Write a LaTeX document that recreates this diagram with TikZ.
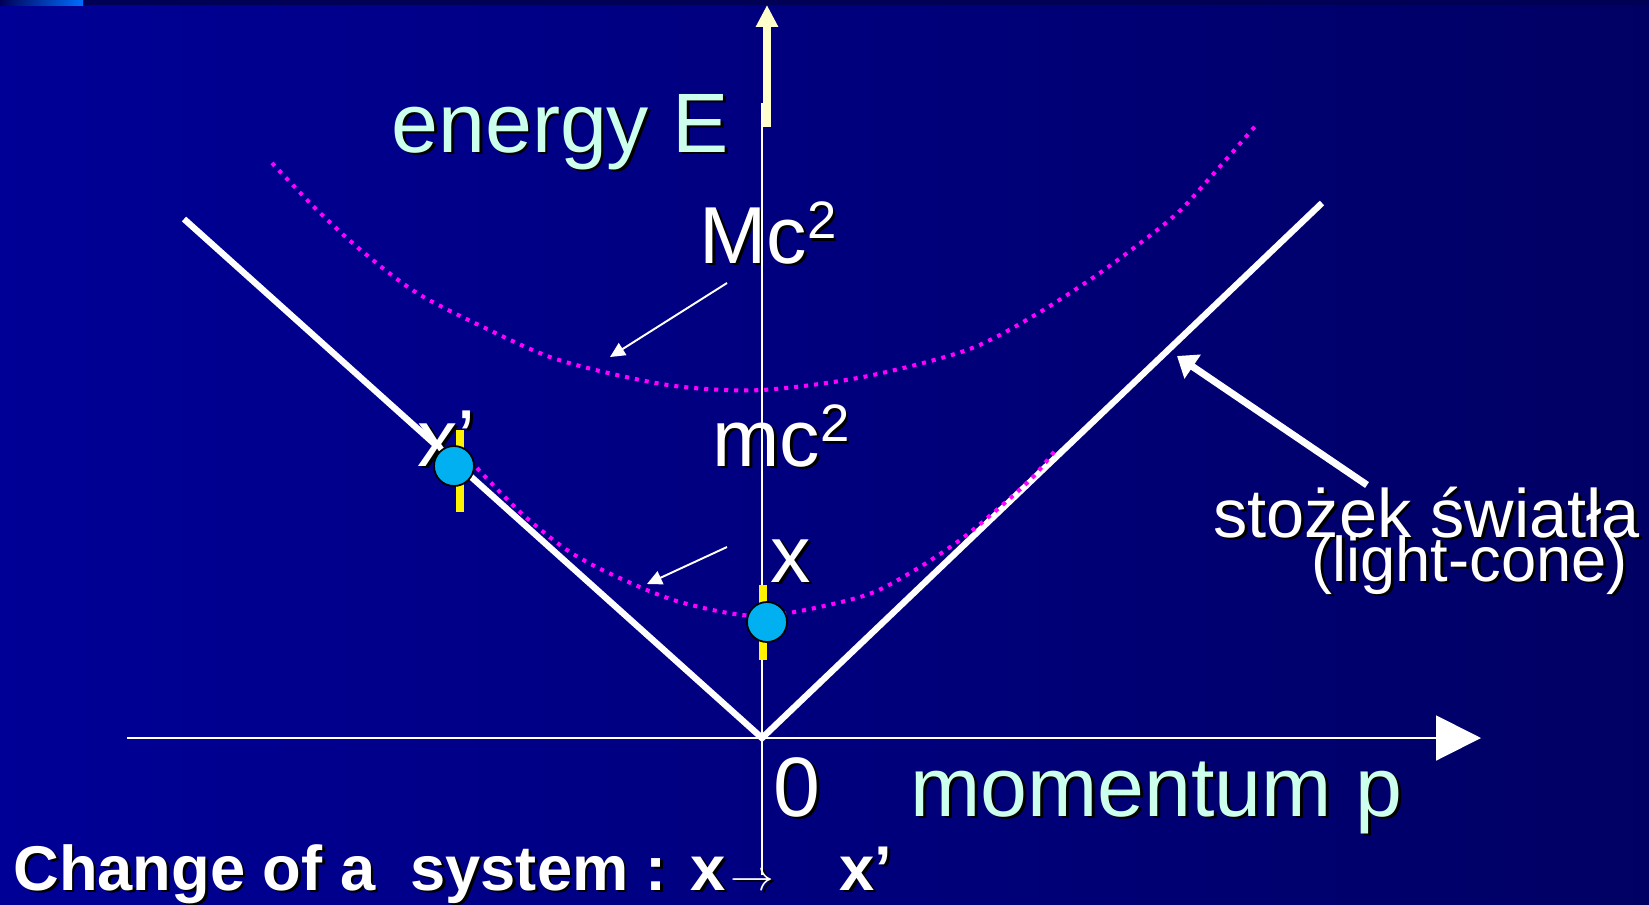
\documentclass[tikz,border=0pt]{standalone}
\usepackage{fontspec}
\setmainfont{Liberation Sans}
\usetikzlibrary{arrows.meta}

\definecolor{bgleft}{RGB}{0,0,150}
\definecolor{bgright}{RGB}{0,0,100}
\definecolor{bgtop}{RGB}{0,0,85}
\definecolor{stripblue}{RGB}{0,110,255}
\definecolor{axiscyan}{RGB}{204,255,236}
\definecolor{cream}{RGB}{255,255,204}
\definecolor{shellmagenta}{RGB}{255,0,255}
\definecolor{particlecyan}{RGB}{0,176,240}

% text with a small black drop shadow
\newcommand{\shadowed}[1]{\leavevmode\rlap{\kern1.6pt\raisebox{-1.6pt}{\color{black}#1}}#1}
\newcommand{\sqtwo}{\raisebox{14pt}{\fontsize{30}{30}\selectfont 2}}

\begin{document}
\begin{tikzpicture}[x=0.02cm,y=-0.02cm]
\tikzset{
  whitetext/.style={inner sep=0pt,anchor=base west,text=white,font=\fontsize{46}{46}\selectfont},
  axistext/.style={whitetext,text=axiscyan},
  cone/.style={draw=white,line width=3.6pt},
  axisline/.style={draw=white,line width=1.1pt},
  massshell/.style={draw=shellmagenta,line width=2.3pt,dash pattern=on 2.3pt off 3.4pt},
  pointer/.style={draw=white,line width=1.1pt,-{Triangle[length=8.5pt,width=8pt]}},
  particle/.style={circle,draw=black,line width=1pt,fill=particlecyan,minimum size=0.8cm,inner sep=0pt},
  errorbar/.style={draw=yellow,line width=4pt}
}
% background
\fill[left color=bgleft,right color=bgright] (0,0) rectangle (1649,904);
\useasboundingbox (0,0) rectangle (1649,904);
\fill[bgtop] (0,0) rectangle (1649,5);
\fill[left color=bgtop,right color=stripblue] (0,0) rectangle (83,5);

\coordinate (o) at (762,738);
\coordinate (p_start) at (127,738);
\coordinate (p_end) at (1481,738);
\coordinate (e_bottom) at (762,875);
\coordinate (e_top) at (762,103);
\coordinate (e_base) at (767,127);
\coordinate (e_tip) at (767,5);
\coordinate (cone_l) at (184,219);
\coordinate (cone_r) at (1322,203);
\coordinate (Mc_from) at (727,283);
\coordinate (Mc_to) at (610,357);
\coordinate (mc_from) at (727,547);
\coordinate (mc_to) at (647,584);
\coordinate (lc_from) at (1367,485);
\coordinate (lc_to) at (1177,356);

% light cone
\draw[cone] (cone_l) -- (o) -- (cone_r);

% mass shells
\draw[massshell] plot[smooth] coordinates {(272,163) (317,210) (363,252) (417,293) (483,327) (550,357) (617,375) (683,387) (762,390) (863,377) (967,350) (1035,315) (1104,270) (1173,217) (1208,180) (1258,123)};
\draw[massshell] plot[smooth] coordinates {(477,468) (520,512) (567,550) (613,575) (680,602) (762,616) (860,597) (910,573) (960,540) (1000,507) (1033,477) (1057,448)};

% pointers
\draw[pointer] (Mc_from) -- (Mc_to);
\draw[pointer] (mc_from) -- (mc_to);
\draw[draw=white,line width=4pt,-{Triangle[length=10.8pt,width=16pt]}] (lc_from) -- (lc_to);

% labels
\node[axistext,font=\fontsize{48}{48}\selectfont] (t_energy) at (391,152) {\shadowed{energy E}};
\node[whitetext] (t_Mc) at (699,263) {\shadowed{Mc\sqtwo}};
\node[whitetext] (t_mc) at (712,466) {\shadowed{mc\sqtwo}};
\node[whitetext] (t_xp) at (417,466) {\shadowed{x’}};
\node[whitetext] (t_x) at (770,582) {\shadowed{x}};
\node[whitetext,font=\fontsize{48}{48}\selectfont] (t_zero) at (773,816) {\shadowed{0}};
\node[axistext,font=\fontsize{48}{48}\selectfont] (t_momentum) at (910,816) {\shadowed{momentum p}};
\node[whitetext,font=\fontsize{39}{39}\selectfont] (t_cone) at (1213,537) {\shadowed{stożek światła}};
\node[whitetext,font=\fontsize{36}{36}\selectfont] (t_cone_en) at (1311,581) {\shadowed{(light-cone)}};
\node[whitetext,font=\fontsize{36}{36}\selectfont\bfseries] (t_change) at (13,890) {\shadowed{Change of a~~system : x\kern3pt{\fontsize{40}{40}\selectfont$\rightarrow$}\hspace{37pt}x’}};

% axes
\draw[axisline,-{Triangle[length=25.5pt,width=25.5pt]}] (p_start) -- (p_end);
\draw[axisline] (e_bottom) -- (e_top);
\draw[draw=cream,line width=4pt,-{Triangle[length=12.5pt,width=12pt]}] (e_base) -- (e_tip);

% particles
\draw[errorbar] (460,430) -- (460,512);
\draw[errorbar] (763,585) -- (763,660);
\node[particle] (n_xp) at (454,466) {};
\node[particle] (n_x) at (767,622) {};
\end{tikzpicture}
\end{document}
